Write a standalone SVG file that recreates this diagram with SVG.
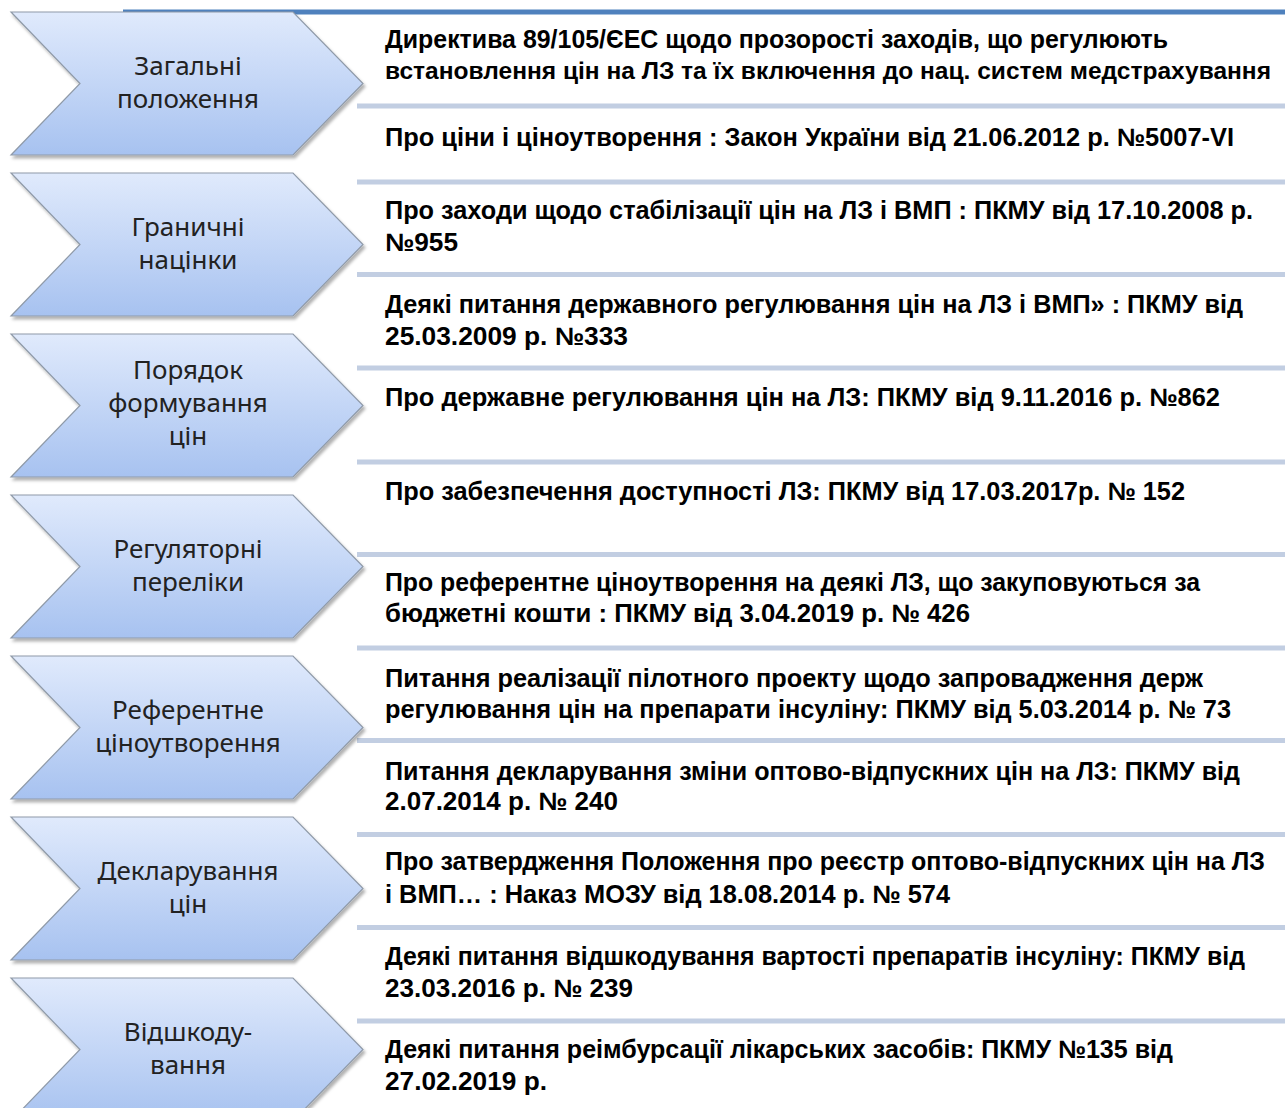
<svg xmlns="http://www.w3.org/2000/svg" xmlns:xlink="http://www.w3.org/1999/xlink" width="1285" height="1108" viewBox="0 0 1285 1108">
<defs>
<linearGradient id="g" x1="0" y1="0" x2="0" y2="1">
<stop offset="0" stop-color="#e0eafc"/>
<stop offset="1" stop-color="#a7c2f0"/>
</linearGradient>
<filter id="sh" x="-5%" y="-5%" width="115%" height="120%">
<feDropShadow dx="2" dy="3" stdDeviation="1.5" flood-color="#000" flood-opacity="0.3"/>
</filter>
<path id="chev" d="M11,0 L293,0 L363,71.5 L293,143 L11,143 L80,71.5 Z"/>
</defs>
<style>
.chev{fill:url(#g);stroke:#8f9aa8;stroke-width:1.2;filter:url(#sh)}
.lbl{font-family:"Noto Sans","Open Sans","DejaVu Sans",sans-serif;font-size:26px;fill:#222;text-anchor:middle}
.sep{stroke:#c2cee2;stroke-width:5}
.top{stroke:#4f81bd;stroke-width:5}
.t{font-family:"Liberation Sans",Arial,sans-serif;font-weight:bold;font-size:25px;fill:#000}
</style>
<rect width="1285" height="1108" fill="#fff"/>
<g id="connectors">
<line class="top" x1="123" y1="12" x2="1285" y2="12"/>
<line class="sep" x1="357" y1="106" x2="1285" y2="106"/>
<line class="sep" x1="357" y1="182" x2="1285" y2="182"/>
<line class="sep" x1="357" y1="274.5" x2="1285" y2="274.5"/>
<line class="sep" x1="357" y1="368" x2="1285" y2="368"/>
<line class="sep" x1="357" y1="462" x2="1285" y2="462"/>
<line class="sep" x1="357" y1="554.5" x2="1285" y2="554.5"/>
<line class="sep" x1="357" y1="648" x2="1285" y2="648"/>
<line class="sep" x1="357" y1="740.5" x2="1285" y2="740.5"/>
<line class="sep" x1="357" y1="834.5" x2="1285" y2="834.5"/>
<line class="sep" x1="357" y1="927.5" x2="1285" y2="927.5"/>
<line class="sep" x1="357" y1="1021" x2="1285" y2="1021"/>
</g>
<g id="n1"><use xlink:href="#chev" href="#chev" class="chev" y="12"/>
<text class="lbl" x="188" y="75">Загальні</text><text class="lbl" x="188" y="108">положення</text></g>
<g id="n2"><use xlink:href="#chev" href="#chev" class="chev" y="173"/>
<text class="lbl" x="188" y="236">Граничні</text><text class="lbl" x="188" y="269">націнки</text></g>
<g id="n3"><use xlink:href="#chev" href="#chev" class="chev" y="334"/>
<text class="lbl" x="188" y="379">Порядок</text><text class="lbl" x="188" y="412">формування</text><text class="lbl" x="188" y="445">цін</text></g>
<g id="n4"><use xlink:href="#chev" href="#chev" class="chev" y="495"/>
<text class="lbl" x="188" y="558">Регуляторні</text><text class="lbl" x="188" y="591">переліки</text></g>
<g id="n5"><use xlink:href="#chev" href="#chev" class="chev" y="656"/>
<text class="lbl" x="188" y="719">Референтне</text><text class="lbl" x="188" y="752">ціноутворення</text></g>
<g id="n6"><use xlink:href="#chev" href="#chev" class="chev" y="817"/>
<text class="lbl" x="188" y="880">Декларування</text><text class="lbl" x="188" y="913">цін</text></g>
<g id="n7"><use xlink:href="#chev" href="#chev" class="chev" y="978"/>
<text class="lbl" x="188" y="1041">Відшкоду-</text><text class="lbl" x="188" y="1074">вання</text></g>
<g id="docs">
<g id="d1"><text class="t" x="385" y="48" textLength="783" lengthAdjust="spacingAndGlyphs">Директива 89/105/ЄЕС щодо прозорості заходів, що регулюють</text>
<text class="t" x="385" y="79" style="font-size:23px" textLength="886" lengthAdjust="spacingAndGlyphs">встановлення цін на ЛЗ та їх включення до нац. систем медстрахування</text></g>
<g id="d2"><text class="t" x="385" y="146" textLength="849" lengthAdjust="spacingAndGlyphs">Про ціни і ціноутворення : Закон України від 21.06.2012 р. №5007-VI</text></g>
<g id="d3"><text class="t" x="385" y="219" textLength="868" lengthAdjust="spacingAndGlyphs">Про заходи щодо стабілізації цін на ЛЗ і ВМП : ПКМУ від 17.10.2008 р.</text>
<text class="t" x="385" y="251" textLength="73" lengthAdjust="spacingAndGlyphs">№955</text></g>
<g id="d4"><text class="t" x="385" y="313" textLength="858" lengthAdjust="spacingAndGlyphs">Деякі питання державного регулювання цін на ЛЗ і ВМП» : ПКМУ від</text>
<text class="t" x="385" y="345" textLength="243" lengthAdjust="spacingAndGlyphs">25.03.2009 р. №333</text></g>
<g id="d5"><text class="t" x="385" y="406" textLength="835" lengthAdjust="spacingAndGlyphs">Про державне регулювання цін на ЛЗ: ПКМУ від 9.11.2016 р. №862</text></g>
<g id="d6"><text class="t" x="385" y="500" textLength="800" lengthAdjust="spacingAndGlyphs">Про забезпечення доступності ЛЗ: ПКМУ від 17.03.2017р. № 152</text></g>
<g id="d7"><text class="t" x="385" y="591" textLength="815" lengthAdjust="spacingAndGlyphs">Про референтне ціноутворення на деякі ЛЗ, що закуповуються за</text>
<text class="t" x="385" y="622" textLength="585" lengthAdjust="spacingAndGlyphs">бюджетні кошти : ПКМУ від 3.04.2019 р. № 426</text></g>
<g id="d8"><text class="t" x="385" y="687" textLength="818" lengthAdjust="spacingAndGlyphs">Питання реалізації пілотного проекту щодо запровадження держ</text>
<text class="t" x="385" y="718" textLength="846" lengthAdjust="spacingAndGlyphs">регулювання цін на препарати інсуліну: ПКМУ від 5.03.2014 р. № 73</text></g>
<g id="d9"><text class="t" x="385" y="780" textLength="855" lengthAdjust="spacingAndGlyphs">Питання декларування зміни оптово-відпускних цін на ЛЗ: ПКМУ від</text>
<text class="t" x="385" y="810" textLength="233" lengthAdjust="spacingAndGlyphs">2.07.2014 р. № 240</text></g>
<g id="d10"><text class="t" x="385" y="870" textLength="880" lengthAdjust="spacingAndGlyphs">Про затвердження Положення про реєстр оптово-відпускних цін на ЛЗ</text>
<text class="t" x="385" y="903" textLength="565" lengthAdjust="spacingAndGlyphs">і ВМП… : Наказ МОЗУ від 18.08.2014 р. № 574</text></g>
<g id="d11"><text class="t" x="385" y="965" textLength="860" lengthAdjust="spacingAndGlyphs">Деякі питання відшкодування вартості препаратів інсуліну: ПКМУ від</text>
<text class="t" x="385" y="997" textLength="248" lengthAdjust="spacingAndGlyphs">23.03.2016 р. № 239</text></g>
<g id="d12"><text class="t" x="385" y="1058" textLength="788" lengthAdjust="spacingAndGlyphs">Деякі питання реімбурсації лікарських засобів: ПКМУ №135 від</text>
<text class="t" x="385" y="1090" textLength="162" lengthAdjust="spacingAndGlyphs">27.02.2019 р.</text></g>
</g>
</svg>
